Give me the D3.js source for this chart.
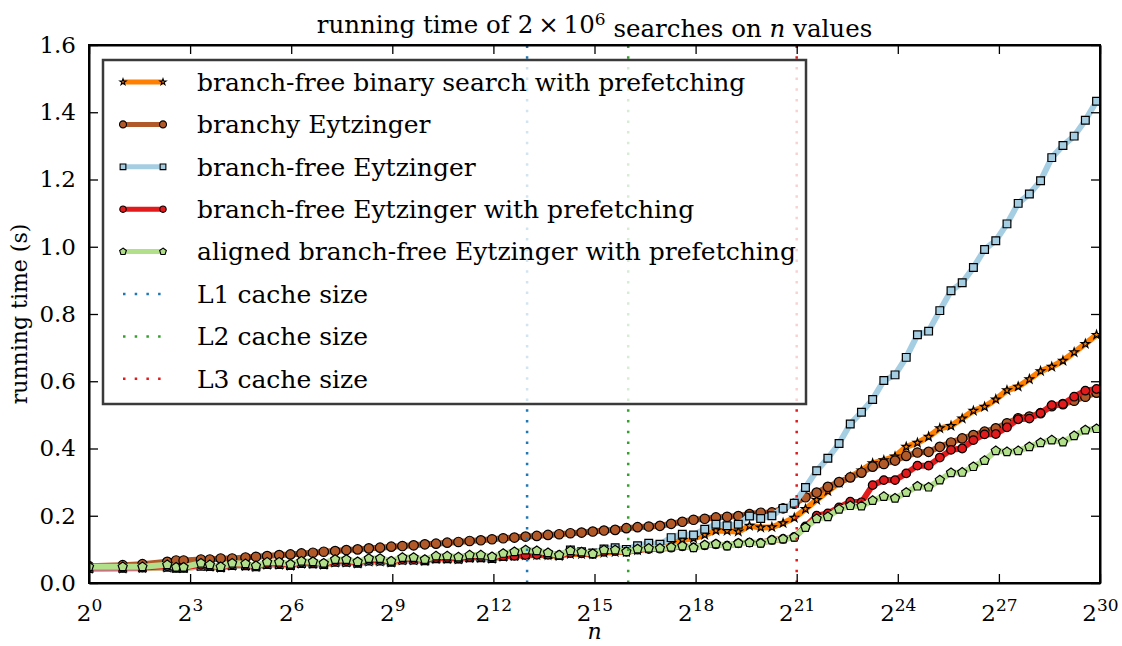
<!DOCTYPE html>
<meta charset="utf-8">
<style>
  body { margin: 0; background: #fff; }
  svg text { font-family: "DejaVu Serif", serif; fill: #000; }
</style>
<body></body>
<script src="https://cdn.jsdelivr.net/npm/d3@7"></script>
<script>
  const width = 1122
  const height = 646
  const margin = { top: 45, right: 22, bottom: 63, left: 89 }

  // problem sizes n (x axis)
  const sizes = [
    1, 2, 3, 5, 6, 7,
    10, 12, 15, 19, 25, 31, 39, 50, 63, 79,
    100, 125, 158, 199, 251, 316, 398, 501, 630, 794,
    1e3, 1258, 1584, 1995, 2511, 3162, 3981, 5011, 6309, 7943,
    1e4, 12589, 15848, 19952, 25118, 31622, 39810, 50118, 63095, 79432,
    1e5, 125892, 158489, 199526, 251188, 316227, 398107, 501187, 630957, 794328,
    1e6, 1258925, 1584893, 1995262, 2511886, 3162277, 3981071, 5011872, 6309573, 7943282,
    1e7, 12589254, 15848931, 19952623, 25118864, 31622776, 39810717, 50118723, 63095734, 79432823,
    1e8, 125892541, 158489319, 199526231, 251188643, 316227766, 398107170, 501187233, 630957344, 794328234,
    1e9
  ]

  // running times (s)
  const binaryPrefetch = [
    .042, .043, .044, .046, .044, .044,
    .050, .048, .045, .051, .050, .047, .054, .054, .051, .057,
    .056, .054, .061, .061, .058, .064, .064, .061, .067, .067,
    .065, .071, .071, .070, .074, .074, .072, .078, .080, .082,
    .083, .082, .080, .086, .086, .085, .090, .092, .092, .097,
    .103, .108, .118, .128, .133, .143, .156, .155, .153, .170,
    .165, .166, .178, .194, .220, .247, .273, .298, .315, .335,
    .356, .365, .376, .405, .417, .435, .460, .467, .489, .512,
    .524, .546, .573, .584, .606, .630, .643, .661, .686, .711,
    .738
  ]
  const branchyEytz = [
    .050, .053, .056, .063, .067, .067,
    .070, .070, .073, .073, .076, .078, .080, .083, .085, .088,
    .090, .093, .095, .098, .100, .103, .105, .108, .110, .112,
    .115, .117, .120, .122, .125, .127, .130, .133, .135, .138,
    .140, .143, .145, .148, .150, .153, .156, .158, .163, .166,
    .168, .170, .176, .182, .188, .191, .195, .197, .199, .205,
    .209, .210, .222, .236, .255, .269, .286, .300, .314, .328,
    .346, .354, .364, .378, .388, .390, .405, .418, .430, .440,
    .450, .460, .475, .490, .495, .505, .526, .532, .542, .554,
    .566
  ]
  const branchfreeEytz = [
    .043, .044, .045, .047, .044, .044,
    .050, .049, .046, .052, .051, .048, .055, .055, .052, .058,
    .057, .055, .062, .062, .059, .065, .065, .062, .068, .068,
    .066, .072, .072, .071, .075, .075, .073, .079, .081, .084,
    .088, .085, .082, .098, .093, .089, .101, .105, .100, .111,
    .118, .115, .135, .145, .143, .160, .175, .170, .175, .199,
    .192, .200, .222, .237, .284, .334, .371, .415, .473, .508,
    .546, .602, .619, .671, .738, .749, .810, .869, .893, .938,
    .992, 1.018, 1.068, 1.129, 1.157, 1.196, 1.265, 1.301, 1.329, 1.376,
    1.433
  ]
  const eytzPrefetch = [
    .046, .046, .046, .050, .046, .046,
    .054, .051, .047, .055, .054, .050, .058, .058, .054, .061,
    .060, .057, .065, .065, .061, .068, .068, .064, .071, .071,
    .068, .074, .075, .073, .077, .078, .076, .080, .081, .083,
    .084, .084, .083, .089, .088, .086, .093, .095, .093, .099,
    .101, .102, .105, .109, .106, .112, .115, .111, .118, .120,
    .119, .128, .131, .137, .168, .200, .207, .225, .242, .240,
    .291, .306, .306, .326, .349, .349, .373, .396, .400, .425,
    .442, .443, .463, .487, .489, .505, .529, .532, .554, .572,
    .577
  ]
  const alignedEytzPrefetch = [
    .048, .048, .048, .054, .047, .047,
    .059, .054, .048, .059, .057, .051, .062, .062, .056, .065,
    .063, .059, .070, .070, .063, .073, .073, .065, .076, .076,
    .070, .080, .080, .077, .083, .083, .078, .088, .093, .098,
    .096, .090, .083, .096, .092, .087, .098, .098, .093, .101,
    .103, .103, .106, .110, .105, .113, .116, .110, .118, .120,
    .118, .128, .131, .136, .165, .191, .197, .219, .230, .229,
    .245, .257, .252, .269, .288, .285, .306, .328, .329, .346,
    .364, .393, .390, .393, .405, .417, .425, .419, .438, .455,
    .459
  ]

  const cacheSizes = [2 ** 13, 2 ** 16, 2 ** 21]
  const cacheLabels = ["L1 cache size", "L2 cache size", "L3 cache size"]
  const cacheColors = ["#1f78b4", "#33a02c", "#e31a1c"]

  const xTickExps = [0, 3, 6, 9, 12, 15, 18, 21, 24, 27, 30]
  const yTicks = [0, 0.2, 0.4, 0.6, 0.8, 1.0, 1.2, 1.4, 1.6]

  // regular pentagon marker for d3.symbol
  const symbolPentagon = {
    draw(ctx, size) {
      const r = Math.sqrt(size / 2.378)
      for (let i = 0; i < 5; i++) {
        const a = -Math.PI / 2 + i * 2 * Math.PI / 5
        if (i) ctx.lineTo(r * Math.cos(a), r * Math.sin(a))
        else ctx.moveTo(r * Math.cos(a), r * Math.sin(a))
      }
      ctx.closePath()
    }
  }

  const series = [
    { label: "branch-free binary search with prefetching", values: binaryPrefetch, color: "#ff7f00", symbol: d3.symbolStar, size: 22 },
    { label: "branchy Eytzinger", values: branchyEytz, color: "#b15928", symbol: d3.symbolCircle, size: 70 },
    { label: "branch-free Eytzinger", values: branchfreeEytz, color: "#a6cee3", symbol: d3.symbolSquare, size: 60 },
    { label: "branch-free Eytzinger with prefetching", values: eytzPrefetch, color: "#e31a1c", symbol: d3.symbolCircle, size: 58 },
    { label: "aligned branch-free Eytzinger with prefetching", values: alignedEytzPrefetch, color: "#b2df8a", symbol: symbolPentagon, size: 54 }
  ]

  const x = d3.scaleLog().base(2)
    .domain([1, 2 ** 30])
    .range([margin.left, width - margin.right])

  const y = d3.scaleLinear()
    .domain([0, 1.6])
    .range([height - margin.bottom, margin.top])

  const svg = d3.select("body").append("svg")
    .attr("width", width)
    .attr("height", height)

  svg.append("defs").append("clipPath")
    .attr("id", "plot-clip")
    .append("rect")
    .attr("x", margin.left)
    .attr("y", margin.top)
    .attr("width", width - margin.left - margin.right)
    .attr("height", height - margin.top - margin.bottom)

  const plot = svg.append("g").attr("clip-path", "url(#plot-clip)")

  const line = d3.line()
    .x((d, i) => x(sizes[i]))
    .y(d => y(d))

  series.forEach(s => {
    plot.append("path")
      .datum(s.values)
      .attr("fill", "none")
      .attr("stroke", s.color)
      .attr("stroke-width", 6)
      .attr("stroke-linejoin", "round")
      .attr("d", line)

    plot.append("g")
      .selectAll("path")
      .data(s.values)
      .join("path")
      .attr("transform", (d, i) => `translate(${x(sizes[i])},${y(d)})`)
      .attr("d", d3.symbol(s.symbol, s.size))
      .attr("fill", s.color)
      .attr("stroke", "#000")
      .attr("stroke-width", 1.2)
  })

  // cache size markers
  plot.selectAll("line.cache")
    .data(cacheSizes)
    .join("line")
    .attr("class", "cache")
    .attr("x1", d => x(d))
    .attr("x2", d => x(d))
    .attr("y1", y(0))
    .attr("y2", y(1.6))
    .attr("stroke", (d, i) => cacheColors[i])
    .attr("stroke-width", 2.5)
    .attr("stroke-dasharray", "2.5,8.2")

  // axes, ticks pointing inward
  const xAxisBottom = d3.axisBottom(x)
    .tickValues(xTickExps.map(e => 2 ** e))
    .tickSizeInner(-9).tickSizeOuter(0).tickPadding(17)

  const gx = svg.append("g")
    .attr("transform", `translate(0,${y(0)})`)
    .call(xAxisBottom)

  gx.selectAll(".tick text")
    .text(null)
    .attr("font-size", 23)
    .attr("dy", "0.9em")
    .each(function(d) {
      const t = d3.select(this)
      t.append("tspan").text("2")
      t.append("tspan").attr("dy", "-0.55em").attr("font-size", 17).text(Math.round(Math.log2(d)))
    })

  svg.append("g")
    .attr("transform", `translate(0,${y(1.6)})`)
    .call(d3.axisTop(x).tickValues(xTickExps.map(e => 2 ** e)).tickSizeInner(-9).tickSizeOuter(0).tickFormat(""))

  const gy = svg.append("g")
    .attr("transform", `translate(${x(1)},0)`)
    .call(d3.axisLeft(y).tickValues(yTicks).tickSizeInner(-9).tickSizeOuter(0).tickPadding(13).tickFormat(d3.format(".1f")))

  gy.selectAll(".tick text").attr("font-size", 23)

  svg.append("g")
    .attr("transform", `translate(${x(2 ** 30)},0)`)
    .call(d3.axisRight(y).tickValues(yTicks).tickSizeInner(-9).tickSizeOuter(0).tickFormat(""))

  svg.selectAll(".domain").attr("stroke", "#000").attr("stroke-width", 2)
  svg.selectAll(".tick line").attr("stroke", "#000").attr("stroke-width", 1.3)

  // frame
  svg.append("rect")
    .attr("x", x(1)).attr("y", y(1.6))
    .attr("width", x(2 ** 30) - x(1))
    .attr("height", y(0) - y(1.6))
    .attr("fill", "none")
    .attr("stroke", "#000")
    .attr("stroke-width", 2)

  // legend
  const legend = svg.append("g")
  legend.append("rect")
    .attr("x", 103).attr("y", 60)
    .attr("width", 703).attr("height", 344)
    .attr("fill", "#fff").attr("fill-opacity", 0.8)
    .attr("stroke", "#3a3a3a").attr("stroke-width", 2.5)

  const rowY = i => 82 + i * 42.4
  const sample = d3.scaleLinear().range([123, 163])

  series.forEach((s, i) => {
    const g = legend.append("g")
    g.append("line")
      .attr("x1", sample(0)).attr("x2", sample(1))
      .attr("y1", rowY(i)).attr("y2", rowY(i))
      .attr("stroke", s.color).attr("stroke-width", 5)
    g.selectAll("path")
      .data([0, 1])
      .join("path")
      .attr("transform", d => `translate(${sample(d)},${rowY(i)})`)
      .attr("d", d3.symbol(s.symbol, s.size * 0.55))
      .attr("fill", s.color)
      .attr("stroke", "#000")
      .attr("stroke-width", 1.1)
    g.append("text")
      .attr("x", 197).attr("y", rowY(i))
      .attr("dy", "0.35em")
      .attr("font-size", 25)
      .text(s.label)
  })

  cacheLabels.forEach((label, j) => {
    const i = series.length + j
    legend.append("line")
      .attr("x1", sample(0)).attr("x2", sample(1))
      .attr("y1", rowY(i)).attr("y2", rowY(i))
      .attr("stroke", cacheColors[j]).attr("stroke-width", 2.5)
      .attr("stroke-dasharray", "2.5,9.2")
    legend.append("text")
      .attr("x", 197).attr("y", rowY(i))
      .attr("dy", "0.35em")
      .attr("font-size", 25)
      .text(label)
  })

  // title and axis labels
  const title = svg.append("text")
    .attr("x", (x(1) + x(2 ** 30)) / 2)
    .attr("y", 33)
    .attr("text-anchor", "middle")
    .attr("font-size", 24.5)
  title.append("tspan").text("running time of 2\u2009\u00d7\u200910")
  title.append("tspan").attr("dy", "-0.5em").attr("font-size", 17).text("6")
  title.append("tspan").attr("dy", "0.5em").text(" searches on ")
  title.append("tspan").attr("font-style", "italic").text("n")
  title.append("tspan").text(" values")

  svg.append("text")
    .attr("x", (x(1) + x(2 ** 30)) / 2)
    .attr("y", 639)
    .attr("text-anchor", "middle")
    .attr("font-size", 22)
    .attr("font-style", "italic")
    .text("n")

  svg.append("text")
    .attr("transform", `translate(27,${(y(0) + y(1.6)) / 2}) rotate(-90)`)
    .attr("text-anchor", "middle")
    .attr("font-size", 22)
    .text("running time (s)")
</script>
